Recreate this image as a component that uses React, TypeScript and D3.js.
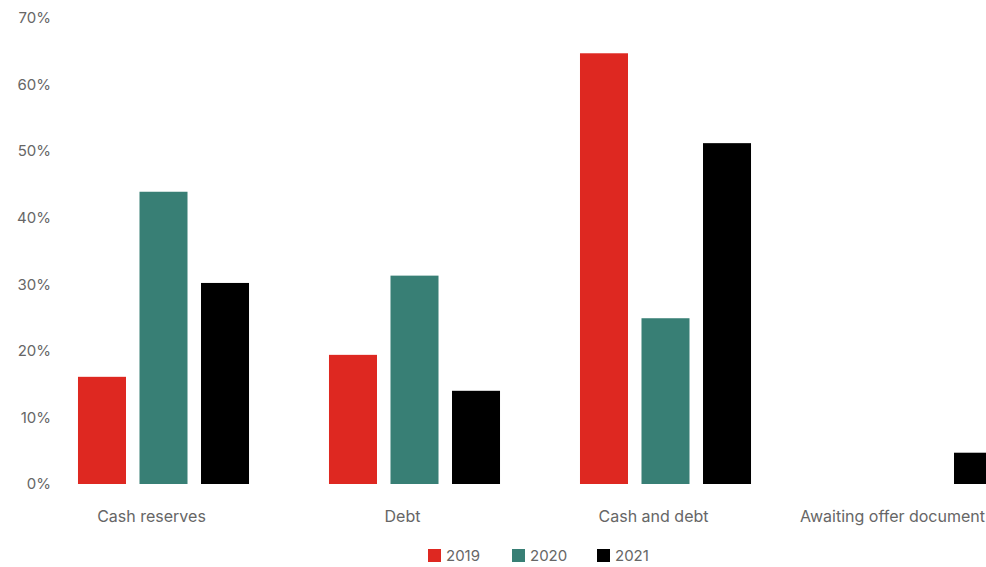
import React from "react";
import * as d3 from "d3";

const categories = ["Cash reserves", "Debt", "Cash and debt", "Awaiting offer document"];
const years = ["2019", "2020", "2021"];
const values2019 = [16.1, 19.4, 64.7, 0];
const values2020 = [43.9, 31.3, 24.9, 0];
const values2021 = [30.2, 14.0, 51.2, 4.7];
const yTicks = [0, 10, 20, 30, 40, 50, 60, 70];
const colors = ["#DE2821", "#387F75", "#000000"];

const W = 986;
const H = 567;
const FONT = "Inter, 'Noto Sans', sans-serif";

function measure(text: string, size: number): number {
  if (typeof document === "undefined") return text.length * size * 0.55;
  const c = document.createElement("canvas");
  const ctx = c.getContext("2d");
  if (!ctx) return text.length * size * 0.55;
  ctx.font = `${size}px ${FONT}`;
  return ctx.measureText(text).width;
}

export default function App() {
  const series = [values2019, values2020, values2021];
  const x0 = d3.scaleBand<string>().domain(categories).range([38, 1042]).paddingInner(0).paddingOuter(0);
  const x1 = d3
    .scaleBand<string>()
    .domain(years)
    .range([0, x0.bandwidth()])
    .paddingInner(0.2195)
    .paddingOuter(0.65);
  const y = d3.scaleLinear().domain([0, 70]).range([484, 18]);

  const legendX = [428, 512, 597];

  return (
    <svg
      width={W}
      height={H}
      style={{ position: "absolute", left: 0, top: 0, background: "#fff" }}
      fontFamily={FONT}
    >
      {yTicks.map((t) => (
        <text
          key={t}
          x={51}
          y={y(t)}
          dy="0.35em"
          textAnchor="end"
          fontSize={15}
          fill="#666"
        >
          {t}%
        </text>
      ))}
      {categories.map((c, ci) => (
        <g key={c} transform={`translate(${x0(c)},0)`}>
          {years.map((yr, si) => {
            const v = series[si][ci];
            if (!v) return null;
            return (
              <rect
                key={yr}
                x={x1(yr)}
                y={y(v)}
                width={x1.bandwidth()}
                height={y(0) - y(v)}
                fill={colors[si]}
              />
            );
          })}
        </g>
      ))}
      {categories.map((c) => {
        const cx = (x0(c) as number) + x0.bandwidth() / 2 - 12;
        const w = measure(c, 16);
        const clamped = Math.min(cx, W - 1 - w / 2);
        return (
          <text
            key={c}
            x={clamped}
            y={516}
            dy="0.35em"
            textAnchor="middle"
            fontSize={16}
            fill="#666"
          >
            {c}
          </text>
        );
      })}
      {years.map((yr, i) => (
        <g key={yr} transform={`translate(${legendX[i]},0)`}>
          <rect x={0} y={549} width={13} height={13} fill={colors[i]} />
          <text x={18} y={556} dy="0.35em" fontSize={15} fill="#666">
            {yr}
          </text>
        </g>
      ))}
    </svg>
  );
}
